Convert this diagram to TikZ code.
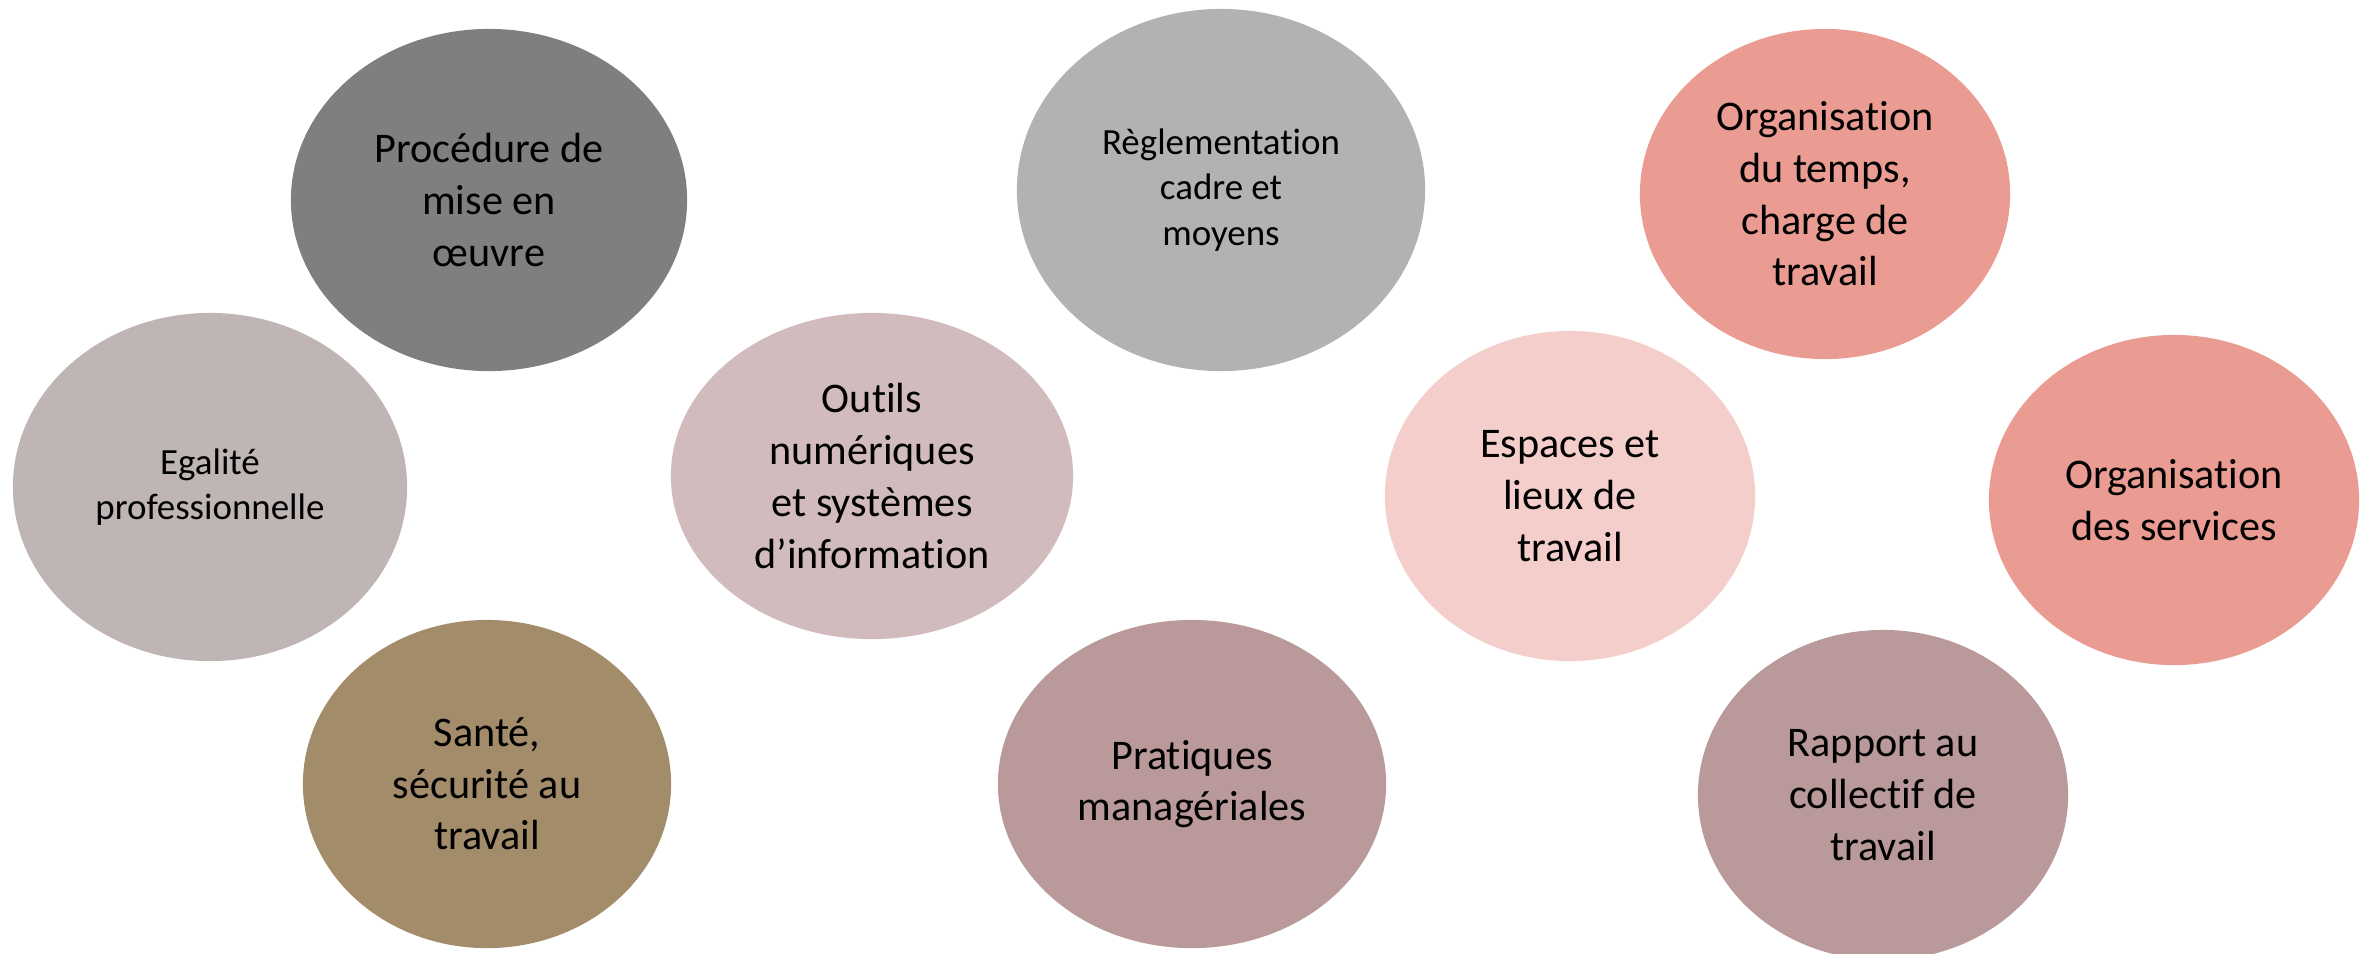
\documentclass[tikz,border=0pt]{standalone}
\usepackage{fontspec}
\setmainfont[RawFeature={-liga,-clig,-calt}]{Carlito}
\usetikzlibrary{shapes.geometric}
\definecolor{gris}{HTML}{7F7F7F}
\definecolor{grisclair}{HTML}{B2B2B2}
\definecolor{taupe}{HTML}{BFB5B5}
\definecolor{olive}{HTML}{A38C69}
\definecolor{rosegris}{HTML}{D1BBBC}
\definecolor{vieuxrose}{HTML}{B99999}
\definecolor{saumon}{HTML}{EA9C92}
\definecolor{rosepale}{HTML}{F4CECA}
\begin{document}
\begin{tikzpicture}[x=0.01cm,y=-0.01cm]
        \tikzset{bubble/.style = {shape=ellipse,inner sep=0pt,align=center,
        font=\fontsize{12}{14.7}\selectfont}};
        \tikzset{small/.style = {font=\fontsize{10.5}{12.9}\selectfont}};
        \useasboundingbox (0,0) rectangle (2361,953);
        \node[bubble, fill=gris, minimum width=3.96cm, minimum height=3.42cm] (a) at (489,200) {Procédure de\\mise en\\œuvre};
        \node[bubble, small, fill=taupe, minimum width=3.94cm, minimum height=3.48cm] (b) at (210,487) {Egalité\\professionnelle};
        \node[bubble, fill=olive, minimum width=3.68cm, minimum height=3.28cm] (c) at (487,784) {Santé,\\sécurité au\\travail};
        \node[bubble, fill=rosegris, minimum width=4.02cm, minimum height=3.26cm] (d) at (872,476) {Outils\\numériques\\et systèmes\\d’information};
        \node[bubble, small, fill=grisclair, minimum width=4.08cm, minimum height=3.62cm] (e) at (1221,190) {Règlementation\\cadre et\\moyens};
        \node[bubble, fill=vieuxrose, minimum width=3.88cm, minimum height=3.28cm] (f) at (1192,784) {Pratiques\\managériales};
        \node[bubble, fill=saumon, minimum width=3.70cm, minimum height=3.30cm] (g) at (1825,194) {Organisation\\du temps,\\charge de\\travail};
        \node[bubble, fill=rosepale, minimum width=3.70cm, minimum height=3.30cm] (h) at (1570,496) {Espaces et\\lieux de\\travail};
        \node[bubble, fill=saumon, minimum width=3.70cm, minimum height=3.30cm] (i) at (2174,500) {Organisation\\des services};
        \node[bubble, fill=vieuxrose, minimum width=3.70cm, minimum height=3.30cm] (j) at (1883,795) {Rapport au\\collectif de\\travail};
    \end{tikzpicture}
\end{document}
